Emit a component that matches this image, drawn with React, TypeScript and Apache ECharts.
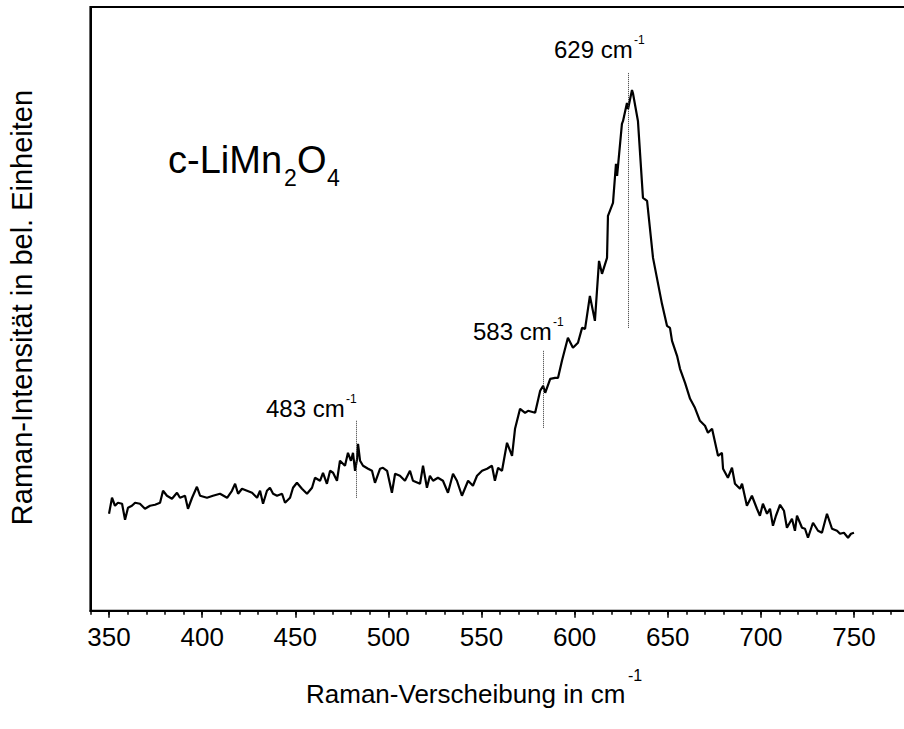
import React, { useEffect, useRef } from "react";
import * as echarts from "echarts";

const ramanShift = [
  350, 351.6, 353.2, 354.8, 357.0, 358.6, 360.2, 362.3, 364.0, 366.6, 369.3, 372.0, 374.7, 377.4, 379.0,
  381.1, 383.8, 386.5, 388.1, 390.8, 392.4, 394.6, 397.2, 398.9, 402.6, 405.8, 409.6, 413.4, 416.0, 417.7,
  419.3, 421.4, 424.1, 426.8, 429.5, 431.1, 432.7, 434.8, 436.4, 438.1, 440.2, 442.9, 444.5, 447.2, 448.8,
  450.9, 453.6, 456.3, 459.0, 460.6, 463.3, 464.9, 467.0, 468.7, 470.3, 472.4, 474.0, 476.7, 478.3, 479.9,
  481.0, 482.1, 483.2, 483.7, 484.8, 486.4, 489.1, 491.2, 492.8, 495.5, 497.1, 499.3, 501.9, 503.6, 506.2,
  508.9, 511.6, 513.2, 517.0, 518.6, 520.7, 522.3, 524.0, 526.6, 529.3, 532.0, 534.7, 536.8, 539.5, 542.8,
  545.4, 547.6, 550.3, 553.0, 555.6, 557.2, 558.9, 561.0, 563.7, 566.4, 568.0, 570.7, 573.4, 575.0, 578.8,
  581.5, 583.1, 584.2, 586.9, 589.5, 591.1, 593.2, 596.4, 599.1, 601.8, 604.0, 605.6, 608.2, 610.9, 613.1,
  614.7, 617.4, 617.9, 620.6, 622.2, 622.8, 625.4, 626.0, 628.1, 628.7, 630.8, 631.3, 634.0, 636.7, 638.9,
  642.1, 646.9, 649.6, 651.2, 652.3, 655.0, 656.6, 659.3, 662.0, 664.6, 667.3, 670.0, 671.6, 673.8, 677.0,
  679.1, 679.7, 682.3, 684.5, 686.1, 688.8, 689.9, 692.5, 695.2, 697.9, 699.5, 701.1, 703.3, 704.9, 706.5,
  708.1, 710.3, 712.4, 714.0, 716.7, 718.3, 719.4, 722.1, 723.7, 725.3, 728.0, 730.7, 732.8, 735.5, 738.2,
  740.9, 742.5, 744.6, 746.8, 748.4, 750,
];

const intensity = [
  97, 113, 105, 108, 107, 91, 103, 105, 108, 107, 102, 105, 106, 108, 120,
  115, 112, 118, 113, 115, 102, 113, 124, 115, 113, 115, 117, 113, 120, 127,
  117, 122, 120, 118, 113, 120, 107, 120, 123, 117, 115, 117, 108, 113, 123,
  128, 122, 117, 123, 133, 130, 138, 127, 140, 138, 130, 150, 145, 158, 150,
  158, 140, 152, 167, 150, 145, 142, 140, 128, 142, 143, 140, 118, 137, 135,
  130, 140, 130, 127, 145, 123, 135, 130, 133, 130, 118, 137, 130, 115, 130,
  125, 135, 140, 142, 145, 130, 143, 140, 168, 155, 182, 202, 198, 200, 198,
  220, 225, 218, 232, 233, 233, 250, 273, 263, 268, 283, 282, 315, 290, 350,
  337, 353, 395, 408, 447, 435, 487, 490, 508, 502, 521, 518, 490, 413, 410,
  353, 307, 285, 283, 270, 255, 242, 228, 212, 203, 190, 185, 178, 182, 155,
  158, 142, 133, 143, 127, 122, 127, 105, 115, 102, 95, 107, 97, 102, 85,
  95, 106, 100, 83, 92, 80, 95, 83, 82, 73, 88, 80, 78, 97, 82,
  80, 77, 78, 73, 77, 78,
];

const majorTicks = [350, 400, 450, 500, 550, 600, 650, 700, 750, 800];
const tickLabels = [350, 400, 450, 500, 550, 600, 650, 700, 750];

const peakPositions = [483, 583, 629];
const peakLineBottoms = [113, 183, 283];
const peakLineTops = [190, 260, 538];

const FONT = "'Liberation Sans', Arial, Helvetica, sans-serif";

function txt(text: string, x: number, y: number, fontSize: number, extra: any = {}) {
  return {
    type: "text",
    x,
    y,
    silent: true,
    style: {
      text,
      fill: "#000",
      font: `${fontSize}px ${FONT}`,
      align: "left",
      verticalAlign: "middle",
      ...extra,
    },
  };
}

export default function App() {
  const ref = useRef<HTMLDivElement>(null);

  useEffect(() => {
    document.body.style.margin = "0";
    const chart = echarts.init(ref.current!, null, { renderer: "svg" });
    const data = ramanShift.map((x, i) => [x, intensity[i]]);

    chart.setOption({
      animation: false,
      backgroundColor: "#fff",
      grid: {
        left: 90.4,
        top: 7,
        width: 856.7,
        height: 603.7,
        show: true,
        borderColor: "#000",
        borderWidth: 2,
        containLabel: false,
        outerBoundsMode: "none",
      },
      xAxis: [
        {
          type: "value",
          min: 340,
          max: 800,
          interval: 10,
          position: "bottom",
          axisLine: { show: true, lineStyle: { color: "#000", width: 2 } },
          axisTick: {
            show: true,
            length: 4,
            lineStyle: { color: "#000", width: 1.5 },
          },
          axisLabel: {
            show: true,
            fontSize: 26,
            fontFamily: FONT,
            color: "#000",
            margin: 13,
            hideOverlap: false,
            formatter: (v: number) => (tickLabels.indexOf(v) >= 0 ? String(v) : ""),
          },
          splitLine: { show: false },
        },
        {
          type: "value",
          min: 340,
          max: 800,
          position: "bottom",
          axisLine: { show: false },
          axisTick: {
            show: true,
            customValues: majorTicks,
            length: 7,
            lineStyle: { color: "#000", width: 1.5 },
          },
          axisLabel: { show: false, customValues: majorTicks },
          splitLine: { show: false },
        },
      ],
      yAxis: {
        type: "value",
        min: 0,
        max: 604,
        axisLine: { show: true, lineStyle: { color: "#000", width: 2 } },
        axisTick: { show: false },
        axisLabel: { show: false },
        splitLine: { show: false },
      },
      series: [
        {
          type: "line",
          data,
          xAxisIndex: 0,
          yAxisIndex: 0,
          symbol: "none",
          showSymbol: false,
          lineStyle: { color: "#000", width: 2.2 },
          markLine: {
            silent: true,
            symbol: ["none", "none"],
            label: { show: false },
            lineStyle: { color: "#333", width: 1, type: "dotted" },
            data: peakPositions.map((p, i) => [
              { coord: [p, peakLineBottoms[i]] },
              { coord: [p, peakLineTops[i]] },
            ]),
          },
        },
      ],
      graphic: [
        {
          type: "text",
          x: 22,
          y: 307.5,
          rotation: Math.PI / 2,
          silent: true,
          style: {
            text: "Raman-Intensität in bel. Einheiten",
            fill: "#000",
            font: `29px ${FONT}`,
            align: "center",
            verticalAlign: "middle",
          },
        },
        txt("Raman-Verscheibung in cm", 306, 693.6, 26),
        txt("-1", 628, 675, 16),
        txt("c-LiMn", 168, 159.5, 38),
        txt("2", 284, 178, 23),
        txt("O", 297, 159.5, 38),
        txt("4", 327, 178, 23),
        txt("483 cm", 266, 408.7, 24),
        txt("-1", 346, 399.3, 12),
        txt("583 cm", 473, 331.7, 24),
        txt("-1", 553, 322.3, 12),
        txt("629 cm", 554, 49.7, 24),
        txt("-1", 634, 40.3, 12),
      ],
    });

    return () => chart.dispose();
  }, []);

  return <div ref={ref} style={{ width: 904, height: 729 }} />;
}
